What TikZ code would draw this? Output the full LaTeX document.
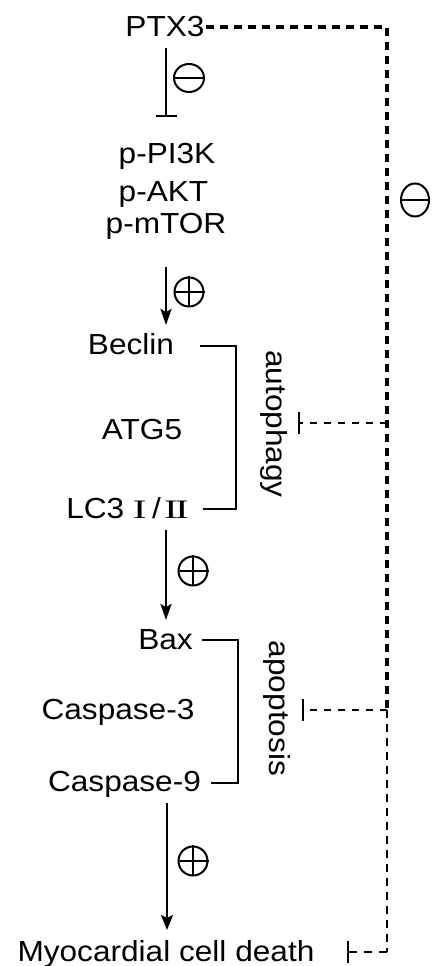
\documentclass[tikz,border=0pt]{standalone}
\usepackage{fontspec}
\usepackage{graphicx}
\setmainfont{Liberation Sans}
\newfontfamily\romanfont{Liberation Serif}
\usetikzlibrary{arrows.meta,shapes.geometric}
\newcommand{\widetxt}[1]{\scalebox{1.09}[1]{#1}}
\begin{document}
\begin{tikzpicture}[x=1pt,y=1pt,
  txt/.style={inner sep=0pt, anchor=base, font=\fontsize{29}{34}\selectfont},
  rtxt/.style={inner sep=0pt, anchor=center, rotate=-90, font=\fontsize{29}{34}\selectfont},
  solidline/.style={line width=2.2pt},
  act/.style={solidline, -{Stealth[length=16pt,width=11pt,inset=3pt]}},
  inh/.style={solidline, -{Bar[width=21pt]}},
  bracketline/.style={solidline},
  thickdash/.style={line width=3.4pt, dash pattern=on 8pt off 6pt},
  thindash/.style={line width=2.3pt, dash pattern=on 8pt off 6pt},
  inhdash/.style={line width=2pt, dash pattern=on 7pt off 7pt, -{Bar[width=22pt,line width=2.2pt]}},
  sign/.style={draw, ellipse, line width=2pt, inner sep=0pt, minimum width=29pt, minimum height=29pt}
]
\useasboundingbox (0,0) rectangle (431,966);

% text nodes
\node[txt] (ptx3) at (165,929) {\widetxt{PTX3}};
\node[txt] (ppi3k) at (167,802) {\widetxt{p-PI3K}};
\node[txt] (pakt) at (163.5,764) {\widetxt{p-AKT}};
\node[txt] (pmtor) at (166,732) {\widetxt{p-mTOR}};
\node[txt] (beclin) at (131,611) {\widetxt{Beclin}};
\node[txt] (atg5) at (142,526) {\widetxt{ATG5}};
\node[txt] (lc3) at (127.5,447) {\widetxt{LC3\hspace{8pt}{\romanfont\scalebox{1.3}[0.92]{I}}\hspace{5pt}/\hspace{3pt}{\romanfont\scalebox{1.3}[0.92]{I\kern-2pt I}}}};
\node[rtxt] (autoph) at (273.5,542) {\widetxt{autophagy}};
\node[txt] (bax) at (165.5,316) {\widetxt{Bax}};
\node[txt] (casp3) at (118,246) {\widetxt{Caspase-3}};
\node[txt] (casp9) at (124.5,174) {\widetxt{Caspase-9}};
\node[rtxt] (apopt) at (276.5,257.5) {\widetxt{apoptosis}};
\node[txt] (death) at (166,5) {\widetxt{Myocardial cell death}};

% signs
\node[sign, minimum width=30pt, minimum height=28pt] (minus1) at (189,888) {};
\draw[line width=2pt] (minus1.west) -- (minus1.east);
\node[sign, minimum width=28pt, minimum height=33pt] (minus2) at (415,766) {};
\draw[line width=2pt] (minus2.west) -- (minus2.east);
\node[sign] (plus1) at (189,674) {};
\draw[line width=2pt] (plus1.west) -- (plus1.east) (plus1.north) -- (plus1.south);
\node[sign] (plus2) at (193,395) {};
\draw[line width=2pt] (plus2.west) -- (plus2.east) (plus2.north) -- (plus2.south);
\node[sign] (plus3) at (193,105) {};
\draw[line width=2pt] (plus3.west) -- (plus3.east) (plus3.north) -- (plus3.south);

% connector coordinates
\coordinate (i1a) at (166,918);
\coordinate (i1b) at (166,849);
\coordinate (a1a) at (166,699);
\coordinate (a1b) at (166,641);
\coordinate (a2a) at (166,436);
\coordinate (a2b) at (166,346);
\coordinate (a3a) at (167,163);
\coordinate (a3b) at (167,36);

\coordinate (dstart) at (206,939);
\coordinate (corner) at (387,939);
\coordinate (jauto) at (387,543);
\coordinate (japo) at (387,256);
\coordinate (jbot) at (387,14);
\coordinate (eauto) at (298,543);
\coordinate (eapo) at (302,256);
\coordinate (ebot) at (347,14);

\coordinate (b1a) at (200,620);
\coordinate (b1b) at (236,620);
\coordinate (b1c) at (236,457);
\coordinate (b1d) at (203,457);
\coordinate (b2a) at (202,326);
\coordinate (b2b) at (238,326);
\coordinate (b2c) at (238,183);
\coordinate (b2d) at (211,183);

% main chain
\draw[inh] (i1a) -- (i1b);
\draw[act] (a1a) -- (a1b);
\draw[act] (a2a) -- (a2b);
\draw[act, -{Stealth[length=15pt,width=12pt,inset=3pt]}] (a3a) -- (a3b);

% brackets
\draw[bracketline] (b1a) -- (b1b) -- (b1c) -- (b1d);
\draw[bracketline] (b2a) -- (b2b) -- (b2c) -- (b2d);

% dashed inhibition from PTX3
\draw[thickdash] (dstart) -- (corner) -- (japo);
\draw[thindash] (japo) -- (jbot);
\draw[inhdash] (jauto) -- (eauto);
\draw[inhdash] (japo) -- (eapo);
\draw[inhdash, dash pattern=on 8pt off 7pt] (jbot) -- (ebot);
\end{tikzpicture}
\end{document}
